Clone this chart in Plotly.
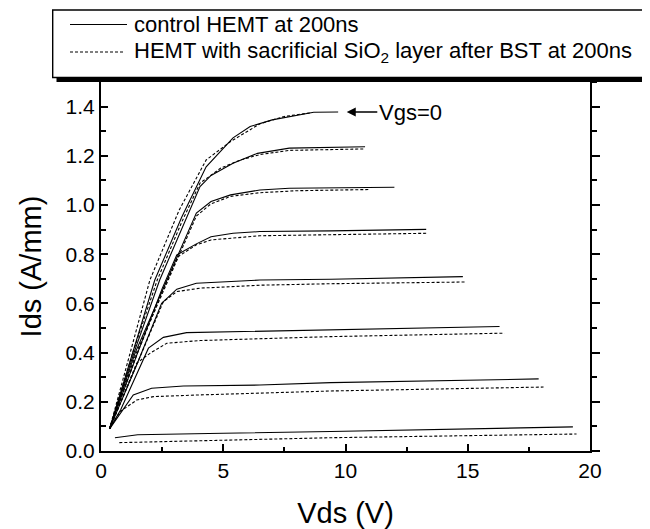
import plotly.graph_objects as go

# ---- data ----
# Each list holds 8 curves, from Vgs=0 (top) to the most negative Vgs (bottom)
ctrl_vds = [
    [0.35, 1.3, 2.2, 3.3, 4.3, 5.4, 6.1, 7.0, 8.7, 9.7],
    [0.35, 1.35, 2.4, 3.4, 4.05, 4.5, 5.4, 6.4, 7.7, 10.8],
    [0.35, 1.4, 2.7, 3.9, 4.5, 5.3, 6.5, 7.7, 12.0],
    [0.35, 1.5, 2.5, 3.1, 3.9, 4.5, 5.4, 6.5, 9.4, 13.3],
    [0.35, 1.5, 2.48, 3.1, 3.9, 6.5, 9.4, 14.8],
    [0.35, 0.8, 1.94, 2.55, 3.5, 6.5, 9.4, 16.3],
    [0.35, 1.32, 2.07, 3.37, 6.5, 9.4, 17.9],
    [0.57, 1.5, 5.0, 9.4, 19.3],
]
ctrl_ids = [
    [0.09, 0.40, 0.695, 0.95, 1.155, 1.273, 1.319, 1.346, 1.377, 1.378],
    [0.09, 0.40, 0.695, 0.93, 1.075, 1.12, 1.17, 1.21, 1.231, 1.237],
    [0.09, 0.40, 0.695, 0.967, 1.014, 1.041, 1.061, 1.068, 1.072],
    [0.09, 0.40, 0.66, 0.797, 0.842, 0.871, 0.885, 0.892, 0.895, 0.901],
    [0.09, 0.36, 0.60, 0.658, 0.682, 0.695, 0.698, 0.709],
    [0.09, 0.167, 0.418, 0.462, 0.481, 0.487, 0.492, 0.506],
    [0.09, 0.228, 0.255, 0.264, 0.268, 0.278, 0.293],
    [0.054, 0.066, 0.072, 0.079, 0.098],
]
sio2_vds = [
    [0.35, 1.2, 2.0, 3.2, 4.3, 5.3, 6.5, 7.5, 8.6],
    [0.35, 1.3, 2.3, 3.3, 4.05, 4.9, 5.7, 6.5, 7.7, 10.8],
    [0.35, 1.45, 2.75, 3.9, 4.5, 5.3, 6.5, 8.0, 11.0],
    [0.35, 1.5, 2.55, 3.15, 3.9, 4.5, 6.5, 9.4, 13.3],
    [0.35, 1.5, 2.55, 3.1, 4.05, 6.5, 9.4, 14.9],
    [0.35, 1.46, 2.0, 2.69, 4.05, 6.5, 9.4, 16.5],
    [0.35, 0.78, 1.46, 2.14, 4.05, 6.5, 9.4, 18.1],
    [0.75, 2.4, 5.0, 9.4, 19.45],
]
sio2_ids = [
    [0.09, 0.40, 0.695, 0.98, 1.183, 1.258, 1.33, 1.36, 1.375],
    [0.09, 0.40, 0.695, 0.93, 1.089, 1.15, 1.183, 1.205, 1.222, 1.228],
    [0.09, 0.40, 0.695, 0.955, 1.005, 1.035, 1.05, 1.058, 1.063],
    [0.09, 0.40, 0.66, 0.79, 0.838, 0.858, 0.875, 0.88, 0.885],
    [0.09, 0.36, 0.607, 0.648, 0.662, 0.674, 0.68, 0.687],
    [0.09, 0.357, 0.397, 0.438, 0.449, 0.457, 0.465, 0.479],
    [0.09, 0.16, 0.207, 0.221, 0.228, 0.235, 0.244, 0.26],
    [0.034, 0.038, 0.045, 0.054, 0.069],
]
legend_labels = ["control HEMT at 200ns",
                 "HEMT with sacrificial SiO<sub>2</sub> layer after BST at 200ns"]
vgs_label = "Vgs=0"
vgs_label_point = (10.05, 1.378)   # arrow tip (Vds, Ids)

# ---- figure ----
OFF = 8                      # page body margin of the html page
W, H = 650 - OFF, 529 - OFF
L, R, T, B = 101 - OFF, 60, 82 - OFF, 78
PW, PH = W - L - R, H - T - B
FONT = "Liberation Sans, Arial, Helvetica, sans-serif"

def px(xs):   # screen x pixel -> paper
    return (xs - OFF - L) / PW

def py(ys):   # screen y pixel -> paper
    return (H - B - (ys - OFF)) / PH

fig = go.Figure()
for xs, ys in zip(ctrl_vds, ctrl_ids):
    fig.add_trace(go.Scatter(x=xs, y=ys, mode="lines", showlegend=False,
                             line=dict(color="black", width=1.1)))
for xs, ys in zip(sio2_vds, sio2_ids):
    fig.add_trace(go.Scatter(x=xs, y=ys, mode="lines", showlegend=False, yaxis="y2",
                             line=dict(color="black", width=1.1, dash="3px,2px")))

axis_common = dict(showline=True, linecolor="black", linewidth=2, showgrid=False,
                   zeroline=False, tickcolor="black", tickwidth=1.5, automargin=False,
                   tickfont=dict(family=FONT, size=21, color="black"))

fig.update_layout(
    template="none",
    width=W, height=H,
    margin=dict(l=L, r=R, t=T, b=B, pad=0),
    paper_bgcolor="white", plot_bgcolor="white",
    xaxis=dict(range=[0, 20], dtick=5, ticks="inside", ticklen=7, mirror=True,
               minor=dict(dtick=2.5, ticks="inside", ticklen=4, tickcolor="black", tickwidth=1.5),
               title=dict(text="Vds (V)", font=dict(family=FONT, size=29, color="black"), standoff=22),
               **axis_common),
    yaxis=dict(range=[0, 1.5], dtick=0.2, tickformat=".1f", ticks="inside", ticklen=7,
               minor=dict(dtick=0.1, ticks="inside", ticklen=5, tickcolor="black", tickwidth=1.5),
               title=dict(text="Ids (A/mm)", font=dict(family=FONT, size=29, color="black"), standoff=15),
               **axis_common),
    yaxis2=dict(overlaying="y", side="right", matches="y", range=[0, 1.5], dtick=0.2,
                ticks="outside", ticklen=8, showticklabels=False,
                minor=dict(dtick=0.1, ticks="outside", ticklen=5, tickcolor="black", tickwidth=1.5),
                **axis_common),
)

# legend box (drawn by hand) with drop shadow
shapes = [
    dict(type="rect", xref="paper", yref="paper", x0=px(56.5), x1=px(647.5), y0=py(82), y1=py(14),
         fillcolor="black", line=dict(width=0), layer="above"),
    dict(type="rect", xref="paper", yref="paper", x0=px(52.7), x1=px(643.5), y0=py(77.5), y1=py(10),
         fillcolor="white", line=dict(color="black", width=1.4), layer="above"),
    dict(type="line", xref="paper", yref="paper", x0=px(70), x1=px(127), y0=py(24.5), y1=py(24.5),
         line=dict(color="black", width=1.1), layer="above"),
    dict(type="line", xref="paper", yref="paper", x0=px(70), x1=px(125), y0=py(52), y1=py(52),
         line=dict(color="black", width=1.1, dash="3px,2px"), layer="above"),
]
fig.update_layout(shapes=shapes)

fig.add_annotation(xref="paper", yref="paper", x=px(132), y=py(24.5), xanchor="left", yanchor="middle",
                   text=legend_labels[0], showarrow=False,
                   font=dict(family=FONT, size=22, color="black"))
fig.add_annotation(xref="paper", yref="paper", x=px(132), y=py(52), xanchor="left", yanchor="middle",
                   text=legend_labels[1], showarrow=False,
                   font=dict(family=FONT, size=22, color="black"))

# Vgs=0 arrow + label
fig.add_annotation(x=vgs_label_point[0], y=vgs_label_point[1], xref="x", yref="y",
                   ax=vgs_label_point[0] + 1.25, ay=vgs_label_point[1], axref="x", ayref="y",
                   xanchor="left", yanchor="middle",
                   text=vgs_label, showarrow=True, arrowhead=2, arrowsize=1.2, arrowwidth=1.5,
                   arrowcolor="black", font=dict(family=FONT, size=22, color="black"))

fig.write_html("out.html")
